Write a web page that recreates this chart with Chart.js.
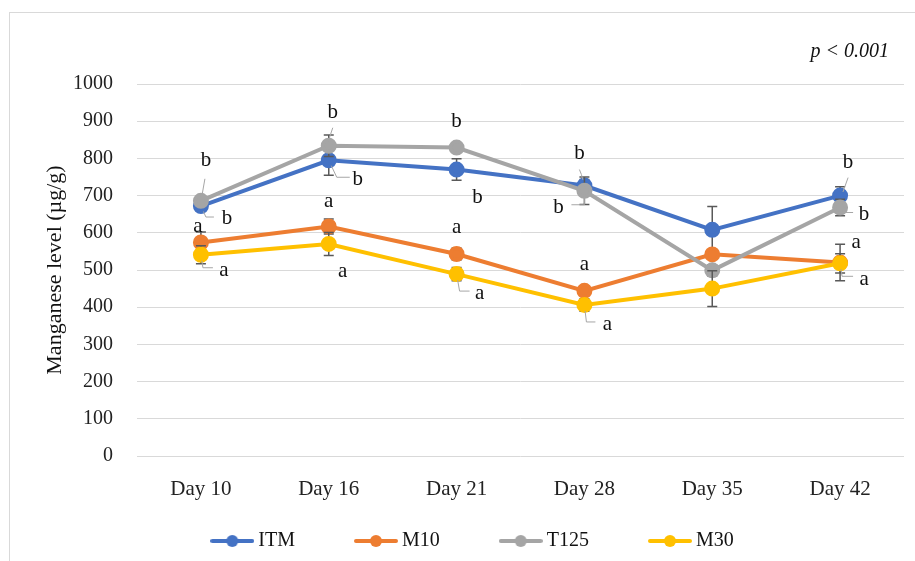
<!DOCTYPE html>
<html>
<head>
<meta charset="utf-8">
<script src="https://cdn.jsdelivr.net/npm/chart.js@4.4.1/dist/chart.umd.min.js"></script>
<style>
  html, body { margin: 0; padding: 0; background: #fff; }
  #wrap { width: 915px; height: 561px; }
</style>
</head>
<body>
<div id="wrap"><canvas id="mnChart"></canvas></div>
<script>
// Sampling days and manganese level (µg/g), mean and error per group
const days = ['Day 10', 'Day 16', 'Day 21', 'Day 28', 'Day 35', 'Day 42'];

const itmMean  = [672, 795, 770, 727, 608, 700];
const itmErr   = [10, 40, 29, 16, 63, 24];
const m10Mean  = [574, 617, 543, 444, 542, 520];
const m10Err   = [28, 20, 16, 8, 12, 49];
const t125Mean = [686, 834, 829, 713, 499, 668];
const t125Err  = [10, 29, 8, 37, 15, 22];
const m30Mean  = [541, 570, 489, 406, 450, 518];
const m30Err   = [24, 31, 18, 17, 48, 26];

// significance letters per group (empty = no letter)
const itmLetters  = ['b', 'b', 'b', 'b', '', 'b'];
const m10Letters  = ['a', 'a', 'a', 'a', '', 'a'];
const t125Letters = ['b', 'b', 'b', 'b', '', 'b'];
const m30Letters  = ['a', 'a', 'a', 'a', '', 'a'];

const yMin = 0, yMax = 1000, yStep = 100;
const pValueText = 'p < 0.001';

const serif = "'Liberation Serif', 'Times New Roman', serif";

// where each letter sits relative to its point, optional leader polyline
const itmPlace = [
  { dx: 26, dy: 12, leader: [[5, 11], [13, 11]] },
  { dx: 29, dy: 19, leader: [[8, 17], [21, 17]] },
  { dx: 21, dy: 28 },
  { dx: -5, dy: -32, leader: [[-3, -11], [-5, -16]] },
  null,
  { dx: 8, dy: -33, leader: [[3, -4], [8, -18]] }
];
const m10Place = [
  { dx: -3, dy: -16 },
  { dx: 0, dy: -25 },
  { dx: 0, dy: -27 },
  { dx: 0, dy: -26 },
  null,
  { dx: 16, dy: -20 }
];
const t125Place = [
  { dx: 5, dy: -40, leader: [[1, -5], [4, -22]] },
  { dx: 4, dy: -33, leader: [[1, -9], [4, -18]] },
  { dx: 0, dy: -26 },
  { dx: -26, dy: 17, leader: [[0, 14], [-13, 14]] },
  null,
  { dx: 24, dy: 7, leader: [[3, 5], [13, 5]] }
];
const m30Place = [
  { dx: 23, dy: 16, leader: [[2, 13], [12, 13]] },
  { dx: 14, dy: 28 },
  { dx: 23, dy: 19, leader: [[3, 17], [13, 17]] },
  { dx: 23, dy: 20, leader: [[2, 17], [11, 17]] },
  null,
  { dx: 24, dy: 16, leader: [[2, 13], [13, 13]] }
];

// line-with-marker swatch used as the legend symbol
function swatch(color) {
  const c = document.createElement('canvas');
  c.width = 44; c.height = 14;
  const g = c.getContext('2d');
  g.strokeStyle = color;
  g.lineWidth = 4;
  g.lineCap = 'round';
  g.beginPath(); g.moveTo(2, 7); g.lineTo(42, 7); g.stroke();
  g.fillStyle = color;
  g.beginPath(); g.arc(22, 7, 6, 0, Math.PI * 2); g.fill();
  return c;
}

function series(label, data, errors, letters, place, color, order) {
  return {
    label, data, errors, letters, place,
    legendSymbol: swatch(color),
    borderColor: color,
    backgroundColor: color,
    pointBackgroundColor: color,
    pointBorderColor: color,
    pointStyle: 'circle',
    pointRadius: 6,
    pointHoverRadius: 6,
    borderWidth: 4,
    tension: 0,
    order
  };
}

// error bars go under each series' own line, over earlier series
const errorBars = {
  id: 'errorBars',
  beforeDatasetDraw(chart, args) {
    const ds = chart.data.datasets[args.index];
    const y = chart.scales.y;
    const ctx = chart.ctx;
    ctx.save();
    ctx.strokeStyle = '#595959';
    ctx.lineWidth = 1.5;
    args.meta.data.forEach((pt, i) => {
      const top = y.getPixelForValue(ds.data[i] + ds.errors[i]);
      const bot = y.getPixelForValue(ds.data[i] - ds.errors[i]);
      ctx.beginPath();
      ctx.moveTo(pt.x, top); ctx.lineTo(pt.x, bot);
      ctx.moveTo(pt.x - 5, top); ctx.lineTo(pt.x + 5, top);
      ctx.moveTo(pt.x - 5, bot); ctx.lineTo(pt.x + 5, bot);
      ctx.stroke();
    });
    ctx.restore();
  }
};

const letterLabels = {
  id: 'letterLabels',
  afterDatasetsDraw(chart) {
    const ctx = chart.ctx;
    ctx.save();
    ctx.font = '21px ' + serif;
    ctx.textAlign = 'center';
    ctx.textBaseline = 'middle';
    chart.data.datasets.forEach((ds, di) => {
      const meta = chart.getDatasetMeta(di);
      ds.letters.forEach((txt, i) => {
        const p = ds.place[i];
        if (!txt || !p) return;
        const pt = meta.data[i];
        if (p.leader) {
          const [fx, fy] = p.leader[0];
          const len = Math.hypot(fx, fy) || 1;
          ctx.strokeStyle = '#a6a6a6';
          ctx.lineWidth = 1;
          ctx.beginPath();
          ctx.moveTo(pt.x + fx / len * 6, pt.y + fy / len * 6);
          p.leader.forEach(([lx, ly]) => ctx.lineTo(pt.x + lx, pt.y + ly));
          ctx.stroke();
        }
        ctx.fillStyle = '#111';
        ctx.fillText(txt, pt.x + p.dx, pt.y + p.dy);
      });
    });
    ctx.restore();
  }
};

// outer frame, p-value note; legend nudged right, x labels given room
const frame = {
  id: 'frame',
  afterLayout(chart) {
    chart.legend.left += 23;
    chart.legend.right += 23;
    const x = chart.scales.x;
    x.bottom = x.top + 50;
    x.height = 50;
  },
  beforeDraw(chart) {
    const ctx = chart.ctx;
    ctx.save();
    ctx.fillStyle = '#fff';
    ctx.fillRect(0, 0, chart.width, chart.height);
    ctx.strokeStyle = '#d9d9d9';
    ctx.lineWidth = 1;
    ctx.strokeRect(9.5, 12.5, chart.width, chart.height);
    ctx.restore();
  },
  afterDraw(chart) {
    const ctx = chart.ctx;
    ctx.save();
    ctx.font = 'italic 20px ' + serif;
    ctx.fillStyle = '#111';
    ctx.textAlign = 'right';
    ctx.textBaseline = 'middle';
    ctx.fillText(pValueText, 889, 52);
    ctx.restore();
  }
};

Chart.defaults.font.family = serif;
Chart.defaults.font.size = 20;
Chart.defaults.color = '#222';

const baseLabels = Chart.defaults.plugins.legend.labels.generateLabels;

new Chart(document.getElementById('mnChart'), {
  type: 'line',
  data: {
    labels: days,
    datasets: [
      series('ITM', itmMean, itmErr, itmLetters, itmPlace, '#4472C4', 3),
      series('M10', m10Mean, m10Err, m10Letters, m10Place, '#ED7D31', 2),
      series('T125', t125Mean, t125Err, t125Letters, t125Place, '#A5A5A5', 1),
      series('M30', m30Mean, m30Err, m30Letters, m30Place, '#FFC000', 0)
    ]
  },
  options: {
    responsive: true,
    maintainAspectRatio: false,
    animation: false,
    layout: { padding: { top: 84, right: 11, left: 0, bottom: 0 } },
    plugins: {
      tooltip: { enabled: false },
      legend: {
        position: 'bottom',
        labels: {
          usePointStyle: true,
          pointStyleWidth: 32,
          padding: 65,
          color: '#111',
          font: { size: 20, family: serif },
          sort: (a, b) => a.datasetIndex - b.datasetIndex,
          generateLabels: (chart) => baseLabels(chart).map(item => ({
            ...item,
            pointStyle: chart.data.datasets[item.datasetIndex].legendSymbol
          }))
        }
      }
    },
    scales: {
      x: {
        offset: true,
        grid: { display: false },
        border: { display: false },
        ticks: { padding: 13, color: '#222', font: { size: 21, family: serif } },
        afterFit: (s) => { s.height = 10; }
      },
      y: {
        min: yMin,
        max: yMax,
        ticks: { stepSize: yStep, padding: 24, color: '#222', callback: (v) => String(v) },
        grid: { color: '#d9d9d9', lineWidth: 1, drawTicks: false },
        border: { display: false },
        title: {
          display: true,
          text: 'Manganese level (µg/g)',
          color: '#111',
          font: { size: 22, family: serif },
          padding: { top: 42 }
        },
        afterFit: (s) => { s.width = 137; }
      }
    }
  },
  plugins: [errorBars, letterLabels, frame]
});
</script>
</body>
</html>
